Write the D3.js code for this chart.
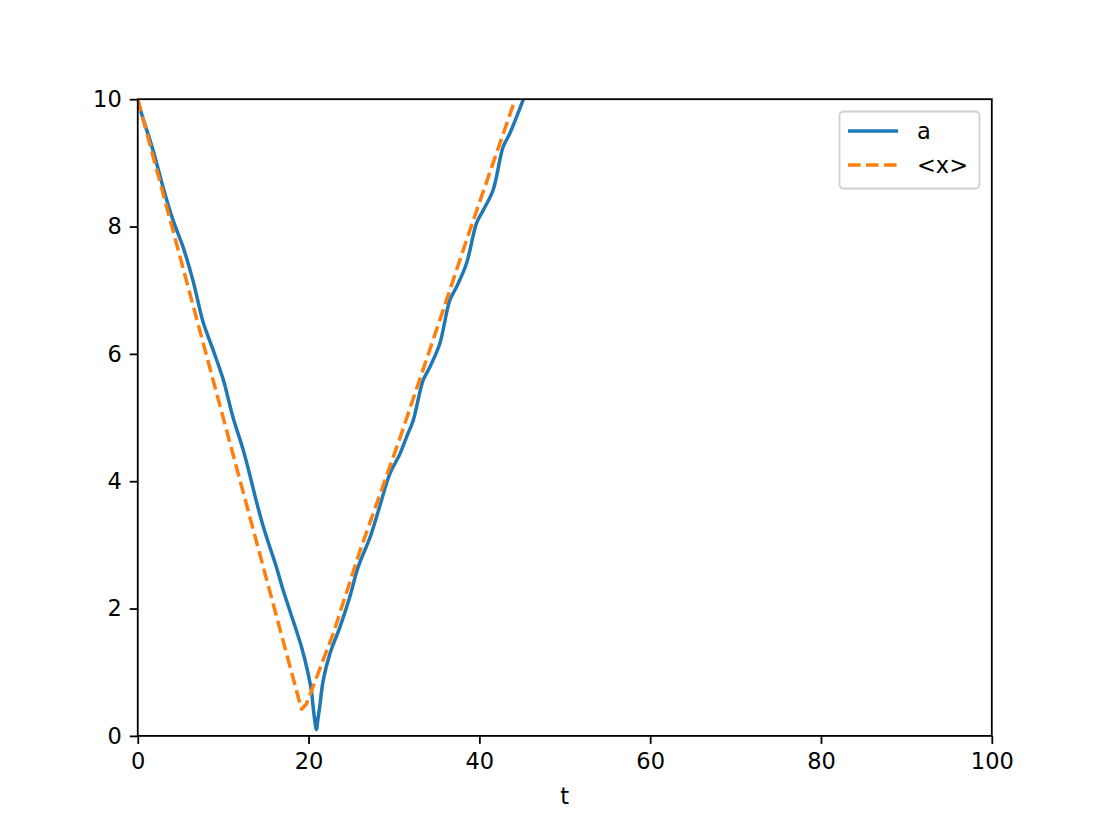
<!DOCTYPE html>
<html><head><meta charset="utf-8">
<script src="https://cdn.jsdelivr.net/npm/d3@7"></script>
<style>body{margin:0;background:#fff}svg{display:block}text{font-family:"DejaVu Sans",sans-serif;fill:#000}</style>
</head><body><svg id="c" width="1102" height="827"></svg>
<script>
const seriesNames = ["a", "<x>"];
const aT = [0,0.43,1.79,2.96,4.13,5.3,6.47,7.65,8.8,10.0,11.16,12.33,13.1,13.9,14.67,15.5,16.24,17.0,17.8,19.17,19.95,20.34,20.6,20.92,21.1,21.3,21.7,22.5,23.65,24.8,25.8,27.2,28.3,29.5,30.7,31.46,32.24,33.4,34.19,35.36,36.53,37.32,38.49,39.66,40.43,41.6,42.78,43.56,45.1,46.5];
const aV = [10,9.78,9.2,8.62,8.1,7.68,7.15,6.5,6.07,5.6,5.0,4.5,4.11,3.68,3.3,2.95,2.65,2.3,1.97,1.4,0.98,0.7,0.38,0.1,0.27,0.45,0.86,1.29,1.70,2.17,2.65,3.12,3.59,4.11,4.43,4.69,4.95,5.58,5.79,6.16,6.84,7.05,7.42,8.05,8.25,8.57,9.25,9.46,9.98,10.5];
const xT = [0,5,10,15,19.17,19.75,22.87,26.0,30.68,35.36,38.88,44.14,46.5];
const xV = [10,7.5,5.0,2.5,0.42,0.5,1.6,2.9,4.67,6.53,7.94,9.98,10.9];
const xTicks = [0,20,40,60,80,100];
const yTicks = [0,2,4,6,8,10];
const xLabel = "t";

const svg = d3.select("#c");
const L=137.75, R=991.8, T=99.2, B=735.9;
const x = d3.scaleLinear().domain([0,100]).range([L,R]);
const y = d3.scaleLinear().domain([0,10]).range([B,T]);
const colors = ["#1f77b4","#ff7f0e"];
const lw = 3.5;
const dash = "12.6,5.4";

svg.append("defs").append("clipPath").attr("id","clip").append("rect")
  .attr("x",L).attr("y",T).attr("width",R-L).attr("height",B-T);

const lineA = d3.line().x(d=>x(d[0])).y(d=>y(d[1])).curve(d3.curveCatmullRom.alpha(0.5));
const lineX = d3.line().x(d=>x(d[0])).y(d=>y(d[1])).curve(d3.curveLinear);
const aData = aT.map((t,i)=>[t,aV[i]]);
const xData = xT.map((t,i)=>[t,xV[i]]);
const g = svg.append("g").attr("clip-path","url(#clip)");
g.append("path").datum(aData).attr("d",lineA).attr("fill","none").attr("stroke",colors[0]).attr("stroke-width",lw).attr("stroke-linejoin","round");
g.append("path").datum(xData).attr("d",lineX).attr("fill","none").attr("stroke",colors[1]).attr("stroke-width",lw).attr("stroke-dasharray",dash).attr("stroke-linejoin","round");

const fs = 22.5;
const tl = 8, tp = 8;
const xa = svg.append("g").attr("transform",`translate(0,${B})`)
  .call(d3.axisBottom(x).tickValues(xTicks).tickSize(tl).tickPadding(tp).tickFormat(d3.format("d")));
const ya = svg.append("g").attr("transform",`translate(${L},0)`)
  .call(d3.axisLeft(y).tickValues(yTicks).tickSize(tl).tickPadding(tp).tickFormat(d3.format("d")));
[xa,ya].forEach(a=>{
  a.select(".domain").remove();
  a.selectAll(".tick line").attr("stroke","#000").attr("stroke-width",1.8);
  a.selectAll(".tick text").attr("font-size",fs).attr("font-family","DejaVu Sans").attr("fill","#000");
});
xa.selectAll(".tick text").attr("dy","0.74em");
svg.append("rect").attr("x",L).attr("y",T).attr("width",R-L).attr("height",B-T)
  .attr("fill","none").attr("stroke","#000").attr("stroke-width",1.8);

svg.append("text").attr("x",(L+R)/2).attr("y",804).attr("text-anchor","middle").attr("font-size",fs).text(xLabel);

// legend
const lg = svg.append("g");
lg.append("rect").attr("x",839.5).attr("y",111.5).attr("width",140).attr("height",77).attr("rx",4)
  .attr("fill","#fff").attr("fill-opacity",0.8).attr("stroke","#d0d0d0").attr("stroke-width",1.8);
seriesNames.forEach((n,i)=>{
  const yy = 131 + i*34;
  lg.append("line").attr("x1",848).attr("x2",898).attr("y1",yy).attr("y2",yy)
    .attr("stroke",colors[i]).attr("stroke-width",lw).attr("stroke-dasharray", i===1?dash:null);
  lg.append("text").attr("x",917).attr("y",yy+7.5).attr("font-size",fs).text(n);
});
</script></body></html>
